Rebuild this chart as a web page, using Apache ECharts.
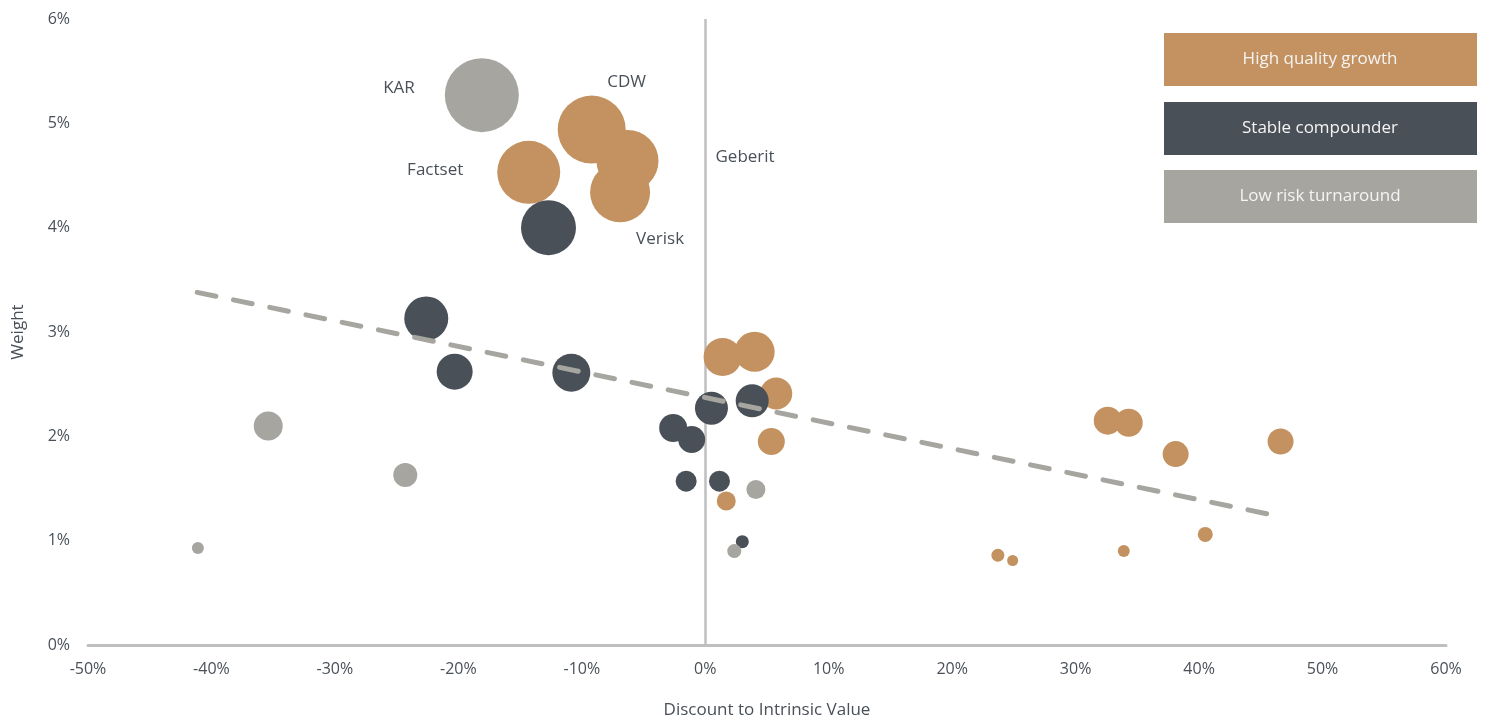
<!DOCTYPE html>
<html>
<head>
<meta charset="utf-8">
<script src="https://cdn.jsdelivr.net/npm/echarts@6/dist/echarts.min.js"></script>
<style>
  html, body { margin: 0; padding: 0; background: #fff; }
  #chart { width: 1485px; height: 724px; }
</style>
</head>
<body>
<div id="chart"></div>
<script>
// [discount %, weight %, bubble size, label]
const highQualityGrowth = [
  [-14.3, 4.53, 63, 'Factset'],
  [-9.2, 4.94, 68, 'CDW'],
  [-6.3, 4.64, 62, 'Geberit'],
  [-6.9, 4.34, 60, 'Verisk'],
  [1.4, 2.76, 38, ''],
  [4.0, 2.81, 40, ''],
  [5.75, 2.41, 32, ''],
  [5.35, 1.95, 27, ''],
  [1.7, 1.38, 19, ''],
  [32.6, 2.15, 28, ''],
  [34.3, 2.13, 28, ''],
  [38.1, 1.83, 26, ''],
  [46.6, 1.95, 26, ''],
  [40.5, 1.06, 15, ''],
  [23.7, 0.86, 13, ''],
  [24.9, 0.81, 11, ''],
  [33.9, 0.90, 12, '']
]
const stableCompounder = [
  [-12.7, 4.00, 55, ''],
  [-22.6, 3.13, 44, ''],
  [-20.3, 2.62, 36, ''],
  [-10.85, 2.61, 38, ''],
  [-2.6, 2.08, 28, ''],
  [-1.1, 1.97, 27, ''],
  [0.5, 2.27, 33, ''],
  [3.8, 2.34, 33, ''],
  [-1.55, 1.57, 21, ''],
  [1.15, 1.57, 21, ''],
  [3.0, 0.99, 13, '']
]
const lowRiskTurnaround = [
  [-18.1, 5.27, 74, 'KAR'],
  [-35.4, 2.10, 29, ''],
  [-24.3, 1.63, 24, ''],
  [-41.1, 0.93, 12, ''],
  [4.1, 1.49, 19, ''],
  [2.35, 0.90, 14, '']
]
const trendLine = [[-41.15, 3.38], [45.8, 1.25]]

const legendNames = ['High quality growth', 'Stable compounder', 'Low risk turnaround']
const colors = ['#C39260', '#4A5058', '#A6A5A0']

const labelFont = '"Open Sans", "Noto Sans", sans-serif'
const textColor = '#4A5058'

// label placement per named bubble
const labelStyles = {
  KAR: { position: 'left', distance: 30, offset: [0, -7] },
  CDW: { position: 'top', distance: 5, offset: [35, 0] },
  Factset: { position: 'left', distance: 34, offset: [0, -2] },
  Geberit: { position: 'right', distance: 57, offset: [0, -4] },
  Verisk: { position: 'bottom', distance: 5, offset: [40, 3] }
}

function toItems (rows) {
  return rows.map(r => {
    const item = { value: [r[0], r[1], r[2]] }
    if (r[3]) {
      item.name = r[3]
      item.label = Object.assign({
        show: true,
        formatter: r[3],
        color: textColor,
        fontSize: 17,
        fontFamily: labelFont
      }, labelStyles[r[3]])
    }
    return item
  })
}

function bubbleSeries (name, rows, color) {
  return {
    name: name,
    type: 'scatter',
    data: toItems(rows),
    symbolSize: v => v[2],
    itemStyle: { color: color, opacity: 1 },
    emphasis: { disabled: true },
    z: 2
  }
}

const chart = echarts.init(document.getElementById('chart'))

const legendBoxes = []
legendNames.forEach((name, i) => {
  const top = [33, 102, 170][i]
  legendBoxes.push({
    type: 'rect',
    left: 1164,
    top: top,
    shape: { width: 313, height: 53 },
    style: { fill: colors[i] }
  })
  legendBoxes.push({
    type: 'text',
    x: 1320,
    y: top + 26,
    style: {
      text: name,
      fill: '#F4F4F4',
      fontSize: 17,
      fontFamily: labelFont,
      align: 'center',
      verticalAlign: 'middle'
    }
  })
})

const option = {
  animation: false,
  grid: { left: 88, right: 39, top: 19, bottom: 79, outerBoundsMode: 'none', containLabel: false },
  xAxis: {
    type: 'value',
    min: -50,
    max: 60,
    interval: 10,
    name: 'Discount to Intrinsic Value',
    nameLocation: 'middle',
    nameGap: 57,
    nameTextStyle: { color: textColor, fontSize: 17, fontFamily: labelFont },
    axisLine: { onZero: false, lineStyle: { color: '#BFBFBF', width: 3 } },
    axisTick: { show: false },
    splitLine: { show: false },
    axisLabel: {
      formatter: v => v + '%',
      color: textColor,
      fontSize: 16,
      fontFamily: labelFont,
      margin: 16
    }
  },
  yAxis: {
    type: 'value',
    min: 0,
    max: 6,
    interval: 1,
    name: 'Weight',
    nameLocation: 'middle',
    nameGap: 61,
    nameTextStyle: { color: textColor, fontSize: 17, fontFamily: labelFont },
    axisLine: { show: false },
    axisTick: { show: false },
    splitLine: { show: false },
    axisLabel: {
      formatter: v => v + '%',
      color: textColor,
      fontSize: 16,
      fontFamily: labelFont,
      margin: 18
    }
  },
  series: [
    bubbleSeries(legendNames[0], highQualityGrowth, colors[0]),
    bubbleSeries(legendNames[1], stableCompounder, colors[1]),
    bubbleSeries(legendNames[2], lowRiskTurnaround, colors[2]),
    {
      type: 'line',
      data: trendLine,
      symbol: 'none',
      lineStyle: { color: '#A6A5A0', width: 5, type: [19, 18], cap: 'round' },
      z: 5,
      silent: true,
      markLine: {
        silent: true,
        symbol: 'none',
        label: { show: false },
        lineStyle: { color: '#BFBFBF', width: 2.5, type: 'solid' },
        data: [{ xAxis: 0 }],
        z: 1
      }
    }
  ],
  graphic: legendBoxes
}
chart.setOption(option)
</script>
</body>
</html>
